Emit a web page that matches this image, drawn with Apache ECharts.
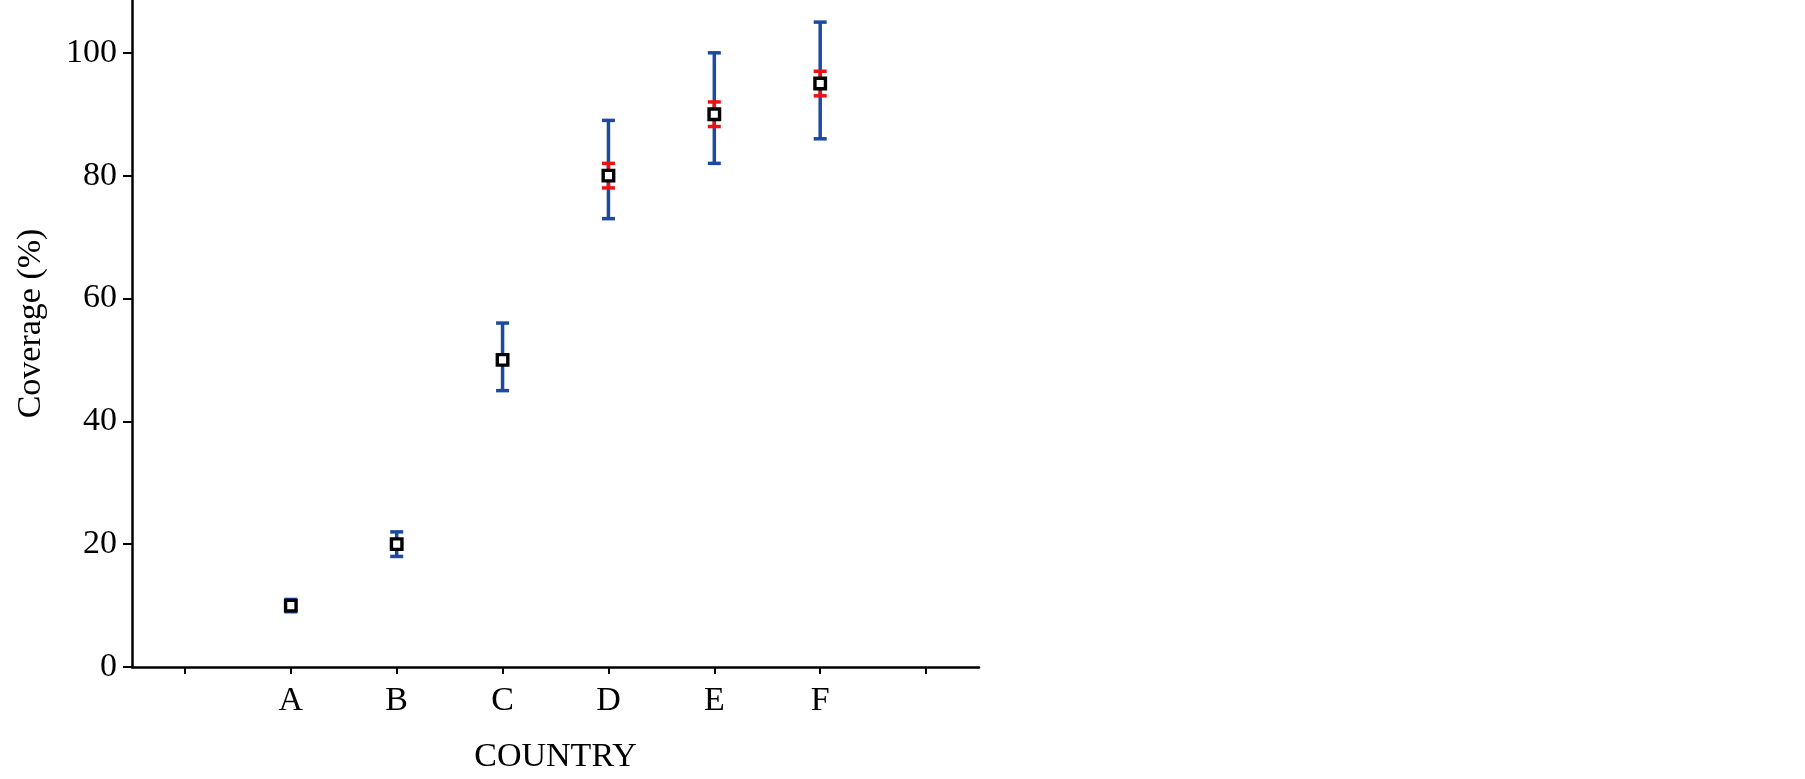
<!DOCTYPE html>
<html>
<head>
<meta charset="utf-8">
<script src="https://cdn.jsdelivr.net/npm/echarts@6/dist/echarts.min.js"></script>
<style>
  html, body { margin: 0; padding: 0; background: #fff; }
  #chart { width: 1805px; height: 779px; }
</style>
</head>
<body>
<div id="chart"></div>
<script>
// values
const countries = ['A', 'B', 'C', 'D', 'E', 'F']
const coverage = [10, 20, 50, 80, 90, 95]
// blue (wide) error range
const blueLow = [9, 18, 45, 73, 82, 86]
const blueHigh = [11, 22, 56, 89, 100, 105]
// red (narrow) error range, only D, E, F
const redLow = [null, null, null, 78, 88, 93]
const redHigh = [null, null, null, 82, 92, 97]
const yTicks = [0, 20, 40, 60, 80, 100]

// empty slot on each side, like the original axis
const axisCats = [''].concat(countries, [''])

const font = '"Liberation Serif", "Times New Roman", serif'

const chart = echarts.init(document.getElementById('chart'))

function errorSeries (low, high, color, z) {
  const data = []
  countries.forEach((c, i) => {
    if (low[i] == null) return
    data.push([i + 1, low[i], high[i]])
  })
  return {
    type: 'custom',
    z: z,
    data: data,
    renderItem (params, api) {
      const x = api.value(0)
      const top = api.coord([x, api.value(2)])
      const bot = api.coord([x, api.value(1)])
      const half = 6.5
      const style = { stroke: color, lineWidth: 3.5 }
      return {
        type: 'group',
        children: [
          { type: 'line', shape: { x1: top[0], y1: top[1], x2: bot[0], y2: bot[1] }, style: style },
          { type: 'line', shape: { x1: top[0] - half, y1: top[1], x2: top[0] + half, y2: top[1] }, style: style },
          { type: 'line', shape: { x1: bot[0] - half, y1: bot[1], x2: bot[0] + half, y2: bot[1] }, style: style }
        ]
      }
    }
  }
}

const option = {
  backgroundColor: '#fff',
  animation: false,
  grid: {
    left: 132,
    right: 826,
    top: 0,
    bottom: 107,
    containLabel: false
  },
  xAxis: {
    type: 'category',
    data: axisCats,
    boundaryGap: true,
    name: 'COUNTRY',
    nameLocation: 'middle',
    nameGap: 73,
    nameTextStyle: { fontFamily: font, fontSize: 34, color: '#000' },
    axisLine: { lineStyle: { color: '#000', width: 2.5 } },
    axisTick: { show: true, alignWithLabel: true, interval: 0, length: 7, lineStyle: { color: '#000', width: 2 } },
    axisLabel: { interval: 0, margin: 17, fontFamily: font, fontSize: 34, color: '#000' },
    splitLine: { show: false }
  },
  yAxis: {
    type: 'value',
    min: 0,
    max: 108.6,
    interval: 20,
    name: 'Coverage (%)',
    nameLocation: 'middle',
    nameGap: 84,
    nameTextStyle: { fontFamily: font, fontSize: 34, color: '#000', padding: [0, 0, 0, 20] },
    axisLine: { show: true, lineStyle: { color: '#000', width: 2.5 } },
    axisTick: { show: true, length: 9, customValues: yTicks, lineStyle: { color: '#000', width: 2 } },
    axisLabel: { margin: 15, customValues: yTicks, fontFamily: font, fontSize: 34, color: '#000' },
    splitLine: { show: false }
  },
  series: [
    errorSeries(blueLow, blueHigh, '#1c4aa3', 2),
    errorSeries(redLow, redHigh, '#ee1111', 3),
    {
      type: 'scatter',
      z: 4,
      symbol: 'rect',
      symbolSize: 10.5,
      itemStyle: { color: '#fff', borderColor: '#000', borderWidth: 3.4, opacity: 1 },
      data: countries.map((c, i) => [i + 1, coverage[i]])
    }
  ]
}

chart.setOption(option)
</script>
</body>
</html>
